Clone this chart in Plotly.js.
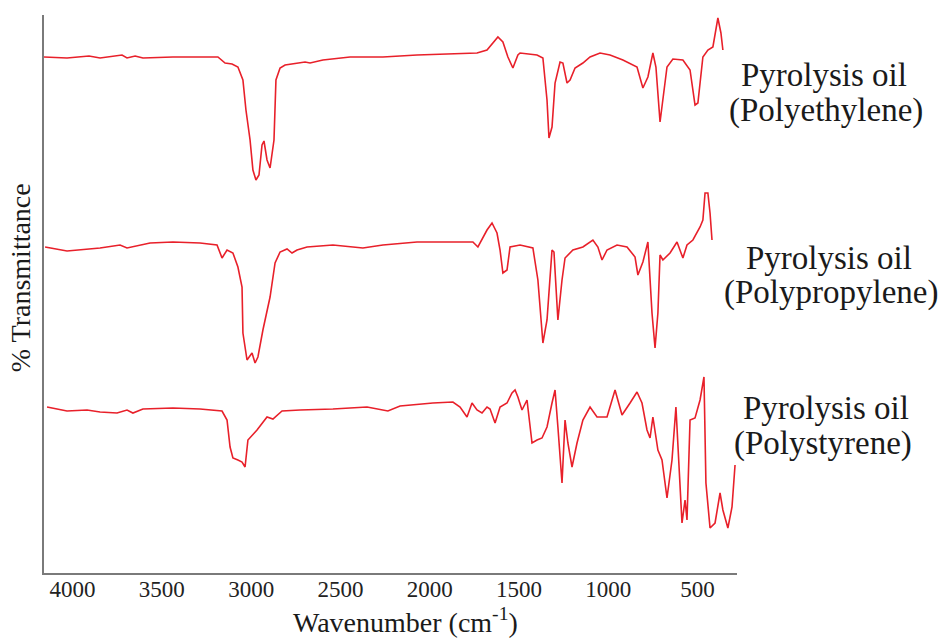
<!DOCTYPE html>
<html>
<head>
<meta charset="utf-8">
<script src="https://cdn.plot.ly/plotly-3.0.1.min.js"></script>
<style>html,body{margin:0;padding:0;background:#fff;}#chart{width:943px;height:638px;}</style>
</head>
<body>
<div id="chart"></div>
<script>
// Wavenumber (cm-1) and stacked relative % transmittance
const peWavenumber = [4160,4031,3908,3846,3723,3695,3650,3606,3438,3230,3186,3146,3107,3074,3046,3029,3006,2990,2973,2956,2939,2928,2911,2894,2872,2861,2838,2810,2766,2698,2670,2598,2446,2262,2071,1886,1735,1679,1618,1590,1562,1534,1506,1494,1399,1366,1343,1332,1315,1298,1270,1254,1231,1214,1186,1142,1102,1046,990,918,839,806,778,750,733,710,694,671,638,582,542,514,498,470,442,414,386,369,358];
const peTransmittance = [103.2,103.0,103.4,103.0,103.6,103.0,103.4,103.0,103.2,103.2,103.2,102.0,101.8,101.2,98.6,92.6,86.6,80.6,78.6,79.6,85.6,86.4,82.6,81.0,86.6,98.6,101.0,101.6,101.8,102.2,102.0,102.6,103.2,103.2,103.6,103.8,104.0,104.6,107.2,106.2,103.2,101.0,103.6,104.0,103.6,103.0,94.6,87.0,89.2,98.0,102.2,102.0,98.0,98.6,101.0,102.0,103.2,104.0,103.6,102.6,101.2,97.0,99.2,104.0,101.2,90.2,94.6,101.2,102.8,102.6,100.6,93.6,94.0,103.2,104.6,105.2,111.0,108.0,104.6];

const ppWavenumber = [4154,4031,3846,3734,3695,3566,3438,3286,3191,3163,3135,3102,3074,3051,3046,3023,2995,2978,2962,2934,2894,2866,2838,2799,2771,2743,2687,2542,2374,2262,2071,1758,1730,1679,1651,1623,1606,1590,1567,1550,1494,1422,1394,1366,1343,1315,1304,1282,1259,1242,1198,1142,1086,1058,1035,1007,951,895,850,834,806,778,755,738,722,710,694,654,615,582,559,526,486,470,458,442,430,419];
const ppTransmittance = [65.2,64.4,65.0,65.6,65.0,66.0,66.2,66.0,65.6,63.0,64.6,64.0,61.2,57.2,48.0,42.6,44.0,42.0,43.2,48.6,55.2,62.0,64.2,64.8,64.0,64.6,65.2,65.6,65.0,65.6,66.2,66.2,65.2,68.6,70.0,68.0,64.6,60.0,60.6,65.2,65.6,65.0,58.6,46.0,50.6,64.6,64.2,50.6,58.6,63.0,64.6,65.2,66.6,65.2,62.6,64.6,65.6,65.2,63.2,59.6,62.2,66.2,52.0,45.0,52.0,63.6,62.6,64.0,66.2,63.0,65.6,66.6,69.2,70.6,76.0,76.0,72.0,66.6];

const psWavenumber = [4143,4031,3919,3846,3751,3695,3662,3606,3438,3286,3163,3135,3118,3102,3074,3051,3034,3018,2967,2911,2878,2827,2726,2542,2351,2234,2166,1982,1870,1830,1791,1763,1735,1707,1679,1662,1634,1606,1567,1539,1522,1506,1483,1455,1427,1399,1371,1343,1315,1298,1282,1259,1242,1226,1203,1175,1142,1102,1063,1007,962,923,878,839,811,783,766,750,722,699,671,643,621,610,587,570,559,542,514,486,464,453,430,402,374,358,330,307,290];
const psTransmittance = [33.2,32.4,32.6,32.2,32.0,32.6,32.0,32.8,33.0,32.8,32.4,30.6,25.2,23.0,22.6,22.2,21.2,26.6,28.6,31.2,30.8,32.4,32.6,32.8,33.2,32.4,33.4,34.0,34.2,33.2,31.2,34.0,32.6,32.0,33.2,32.8,30.0,33.2,34.0,36.0,36.6,35.2,32.6,34.6,26.0,26.6,27.0,29.2,34.0,36.6,29.2,18.0,30.6,26.0,21.2,26.0,30.6,33.2,31.2,31.2,36.6,31.6,34.0,36.2,34.0,28.6,27.0,31.2,24.6,22.6,15.0,22.6,33.2,25.2,10.0,14.6,10.6,30.6,31.0,34.6,39.2,18.0,9.0,10.0,16.0,12.6,9.0,13.2,21.6];

const tickValues = [4000,3500,3000,2500,2000,1500,1000,500];
const seriesLabels = [
  ["Pyrolysis oil", "(Polyethylene)"],
  ["Pyrolysis oil", "(Polypropylene)"],
  ["Pyrolysis oil", "(Polystyrene)"]
];
const xTitle = "Wavenumber (cm<sup>-1</sup>)";
const yTitle = "% Transmittance";

const lineStyle = {color: 'rgb(232,32,42)', width: 1.6};
const serif = 'Liberation Serif, serif';

const traces = [
  {x: peWavenumber, y: peTransmittance, name: seriesLabels[0].join(' '), mode: 'lines', line: lineStyle},
  {x: ppWavenumber, y: ppTransmittance, name: seriesLabels[1].join(' '), mode: 'lines', line: lineStyle},
  {x: psWavenumber, y: psTransmittance, name: seriesLabels[2].join(' '), mode: 'lines', line: lineStyle}
];

// label line positions in plot-area fractions
const labelPos = [
  [[1.125, 0.892], [1.129, 0.829]],
  [[1.133, 0.564], [1.135, 0.503]],
  [[1.129, 0.295], [1.124, 0.232]]
];
const annotations = [];
seriesLabels.forEach((l, i) => {
  l.forEach((t, j) => {
    annotations.push({
      text: t, xref: 'paper', yref: 'paper', x: labelPos[i][j][0], y: labelPos[i][j][1],
      xanchor: 'center', yanchor: 'middle', showarrow: false, align: 'center',
      font: {family: serif, size: 33, color: '#1a1a1a'}
    });
  });
});
annotations.push({text: xTitle, xref: 'paper', yref: 'paper', x: 0.521, y: -0.086, xanchor: 'center', yanchor: 'middle',
  showarrow: false, font: {family: serif, size: 28, color: '#1a1a1a'}});
annotations.push({text: yTitle, xref: 'paper', yref: 'paper', x: -0.034, y: 0.529, xanchor: 'center', yanchor: 'middle',
  textangle: -90, showarrow: false, font: {family: serif, size: 28, color: '#1a1a1a'}});

const layout = {
  width: 943, height: 638,
  margin: {l: 44, r: 206, t: 15, b: 65, pad: 0},
  paper_bgcolor: '#fff', plot_bgcolor: '#fff',
  showlegend: false,
  font: {family: serif},
  xaxis: {
    range: [4160, 279], autorange: false,
    tickvals: tickValues, ticktext: tickValues.map(String),
    ticks: '', showgrid: false, zeroline: false,
    showline: true, linecolor: '#7a7a7a', linewidth: 2,
    tickfont: {family: serif, size: 23, color: '#222'},
    ticklabelstandoff: -6
  },
  yaxis: {
    range: [0, 111.6], autorange: false,
    showticklabels: false, ticks: '', showgrid: false, zeroline: false,
    showline: true, linecolor: '#7a7a7a', linewidth: 2
  },
  annotations: annotations
};

Plotly.newPlot('chart', traces, layout, {displayModeBar: false, staticPlot: true});
</script>
</body>
</html>
